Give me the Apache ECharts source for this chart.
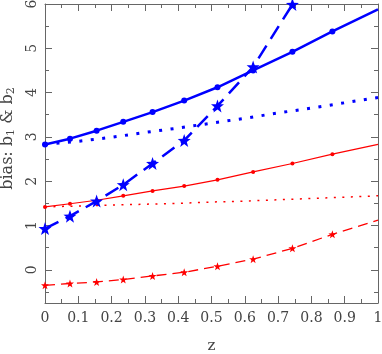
<!DOCTYPE html>
<html>
<head>
<meta charset="utf-8">
<script src="https://cdn.jsdelivr.net/npm/echarts@6/dist/echarts.min.js"></script>
<style>html,body{margin:0;padding:0;background:#fff}</style>
</head>
<body>
<div id="main" style="width:382px;height:354px"></div>
<script>
// redshift snapshots carrying markers
var zSnap = [0, 0.075, 0.155, 0.235, 0.323, 0.418, 0.518, 0.625, 0.743, 0.863];
var zEnd = 1;
// regular grid for the dotted curves
var zGrid = [0, 0.1, 0.2, 0.3, 0.4, 0.5, 0.6, 0.7, 0.8, 0.9, 1.0];

var blueSolid = [2.83, 2.96, 3.14, 3.34, 3.56, 3.82, 4.12, 4.50, 4.92, 5.38];
var blueSolidEnd = 5.88;
var blueDashed = [0.93, 1.21, 1.55, 1.92, 2.40, 2.92, 3.70, 4.58, 5.99];
var blueDotted = [2.83, 2.90, 2.99, 3.10, 3.20, 3.31, 3.42, 3.54, 3.65, 3.77, 3.89];

var redSolid = [1.42, 1.49, 1.57, 1.67, 1.78, 1.89, 2.03, 2.21, 2.40, 2.61];
var redSolidEnd = 2.83;
var redDashed = [-0.35, -0.31, -0.275, -0.22, -0.14, -0.056, 0.08, 0.24, 0.485, 0.80];
var redDashedEnd = 1.12;
var redDotted = [1.42, 1.44, 1.46, 1.48, 1.50, 1.53, 1.55, 1.58, 1.61, 1.64, 1.67];

var yTicks = [0, 1, 2, 3, 4, 5, 6];
var yMinorTicks = [-0.5, 0.5, 1.5, 2.5, 3.5, 4.5, 5.5];

var FONT = 'DejaVu Serif';
var AXIS = '#666';
var TXT = '#444';
var STAR = 'path://M0,-10 L2.35,-3.24 L9.51,-3.09 L3.8,1.24 L5.88,8.09 L0,4 L-5.88,8.09 L-3.8,1.24 L-9.51,-3.09 L-2.35,-3.24 Z';

function pairs(xs, ys, endY) {
  var out = ys.map(function (y, i) { return [xs[i], y]; });
  if (endY !== undefined) out.push({ value: [zEnd, endY], symbol: 'none' });
  return out;
}

function xAx(pos, labels) {
  return {
    type: 'value', position: pos, min: 0, max: 1, interval: 0.1,
    name: labels ? 'z' : '', nameLocation: 'middle', nameGap: 36,
    nameTextStyle: { fontFamily: FONT, fontSize: 15, color: TXT },
    axisLine: { show: true, onZero: false, lineStyle: { color: AXIS, width: 1 } },
    axisTick: { show: true, inside: true, length: 7, lineStyle: { color: AXIS } },
    minorTick: { show: true, splitNumber: 2, length: 4, lineStyle: { color: AXIS } },
    axisLabel: { show: labels, margin: 8, fontFamily: FONT, fontSize: 14, color: TXT },
    splitLine: { show: false }
  };
}

function yAx(pos, ticks, len, main) {
  return {
    type: 'value', position: pos, min: -0.75, max: 6,
    name: main ? 'bias: b{s|1} & b{s|2}' : '', nameLocation: 'middle', nameGap: 28, nameRotate: 90,
    nameTextStyle: {
      fontFamily: FONT, fontSize: 16, color: TXT, padding: [0, 0, 0, 30],
      rich: { s: { fontFamily: FONT, fontSize: 11, color: TXT, padding: [8, 0, 0, 0] } }
    },
    axisLine: { show: len === 7, onZero: false, lineStyle: { color: AXIS, width: 1 } },
    axisTick: { show: true, inside: true, length: len, customValues: ticks, lineStyle: { color: AXIS } },
    axisLabel: { show: !!main, customValues: ticks, rotate: 90, margin: 6, fontFamily: FONT, fontSize: 14, color: TXT },
    splitLine: { show: false }
  };
}

var option = {
  animation: false,
  backgroundColor: '#fff',
  grid: { left: 45, right: 4, top: 4, bottom: 51, containLabel: false, outerBoundsMode: 'none' },
  xAxis: [xAx('bottom', true), xAx('top', false)],
  yAxis: [
    yAx('left', yTicks, 7, true),
    yAx('left', yMinorTicks, 4, false),
    yAx('right', yTicks, 7, false),
    yAx('right', yMinorTicks, 4, false)
  ],
  series: [
    { type: 'line', data: pairs(zGrid, redDotted), symbol: 'none',
      lineStyle: { color: '#ff0000', width: 1.5, type: [2, 6.5] } },
    { type: 'line', data: pairs(zSnap, redSolid, redSolidEnd), symbol: 'circle', symbolSize: 4,
      itemStyle: { color: '#ff0000' }, lineStyle: { color: '#ff0000', width: 1.2 } },
    { type: 'line', data: pairs(zSnap, redDashed, redDashedEnd), symbol: STAR, symbolSize: 8,
      itemStyle: { color: '#ff0000' }, lineStyle: { color: '#ff0000', width: 1.3, type: [10, 6] } },
    { type: 'line', data: pairs(zGrid, blueDotted), symbol: 'none',
      lineStyle: { color: '#0000ff', width: 3, type: [3, 8.5] } },
    { type: 'line', data: pairs(zSnap, blueSolid, blueSolidEnd), symbol: 'circle', symbolSize: 6,
      itemStyle: { color: '#0000ff' }, lineStyle: { color: '#0000ff', width: 2.5 } },
    { type: 'line', data: pairs(zSnap, blueDashed), symbol: STAR, symbolSize: 13, clip: false,
      itemStyle: { color: '#0000ff' }, lineStyle: { color: '#0000ff', width: 2.5, type: [15, 8] } }
  ]
};

var myChart = echarts.init(document.getElementById('main'));
myChart.setOption(option);
</script>
</body>
</html>
